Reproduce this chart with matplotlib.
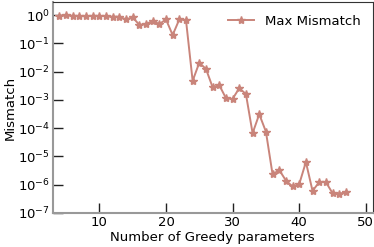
import numpy as np
import matplotlib
matplotlib.use("Agg")
import matplotlib.pyplot as plt

n_params = list(range(4, 48))
max_mismatch = [
    0.94, 0.98, 0.94, 0.92, 0.90, 0.94, 0.92, 0.92, 0.87, 0.87,
    0.70, 0.83, 0.45, 0.48, 0.62, 0.48, 0.70, 0.196, 0.70, 0.67,
    4.7e-3, 2.06e-2, 1.24e-2, 2.8e-3, 3.3e-3, 1.15e-3, 1.08e-3, 2.6e-3, 1.6e-3, 6.6e-5,
    3.1e-4, 7.5e-5, 2.3e-6, 3.3e-6, 1.4e-6, 8.6e-7, 1.04e-6, 6.3e-6, 6.0e-7, 1.23e-6,
    1.23e-6, 5.0e-7, 4.6e-7, 5.7e-7,
]

color = "#c9847a"

fig = plt.figure(figsize=(3.74, 2.47), dpi=100)
ax = fig.add_axes([0.141, 0.138, 0.855, 0.854])
ax.plot(n_params, max_mismatch, marker="*", color=color, lw=1.4, ms=6,
        label="Max Mismatch")
ax.set_yscale("log")
ax.set_xlim(3, 51)
ax.set_ylim(1e-7, 2.9)
ax.set_yticks([10.0 ** k for k in range(-7, 1)])
ax.yaxis.set_minor_locator(matplotlib.ticker.NullLocator())
ax.set_xticks([10, 20, 30, 40, 50])
ax.tick_params(direction="in", length=7, width=1, labelsize=9.5, pad=2,
               color="#222222")
ax.set_xlabel("Number of Greedy parameters", fontsize=9.5, labelpad=2)
ax.set_ylabel("Mismatch", fontsize=9.5, labelpad=1)
for s in ["left", "bottom"]:
    ax.spines[s].set_color("#999999")
    ax.spines[s].set_linewidth(1.5)
for s in ["top", "right"]:
    ax.spines[s].set_color("#333333")
    ax.spines[s].set_linewidth(0.8)
ax.legend(loc="upper right", frameon=False, fontsize=9.5,
          bbox_to_anchor=(1.0, 0.995))
fig.savefig("out.png", dpi=100)
